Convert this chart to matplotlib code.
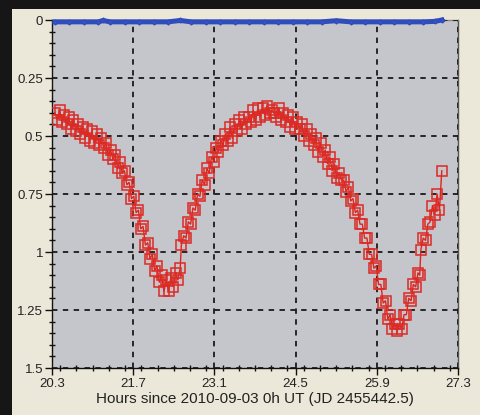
import matplotlib
matplotlib.use("Agg")
import matplotlib.pyplot as plt
from matplotlib.ticker import MultipleLocator, FixedLocator, FixedFormatter
from matplotlib.patches import Rectangle

plt.rcParams['font.family'] = ['Liberation Sans', 'DejaVu Sans']

# ---- data ----
red_x = [20.35, 20.39, 20.43, 20.47, 20.51, 20.55, 20.59, 20.63, 20.67, 20.71,
         20.75, 20.79, 20.83, 20.87, 20.91, 20.95, 20.99, 21.03, 21.07, 21.11,
         21.15, 21.19, 21.23, 21.27, 21.31, 21.35, 21.39, 21.43, 21.47, 21.51,
         21.55, 21.59, 21.63, 21.67, 21.71, 21.75, 21.79, 21.83, 21.87, 21.91,
         21.95, 21.99, 22.03, 22.07, 22.11, 22.15, 22.19, 22.23, 22.27, 22.31,
         22.35, 22.39, 22.43, 22.47, 22.51,
         22.53, 22.57, 22.61, 22.65, 22.69, 22.73, 22.77, 22.81, 22.85, 22.89,
         22.93, 22.97, 23.01, 23.05, 23.09, 23.13, 23.17, 23.21, 23.25, 23.29,
         23.33, 23.37, 23.41, 23.45, 23.49, 23.53, 23.57, 23.61, 23.65, 23.69,
         23.73, 23.77, 23.81, 23.85, 23.89, 23.93, 23.97, 24.01, 24.05, 24.09,
         24.13, 24.17, 24.21, 24.25, 24.29, 24.33, 24.37, 24.41, 24.45, 24.49,
         24.53, 24.57, 24.61, 24.65, 24.69, 24.73, 24.77, 24.81, 24.85, 24.89,
         24.93, 24.97, 25.01, 25.05, 25.09, 25.13, 25.17, 25.21, 25.25, 25.29,
         25.33, 25.37, 25.41, 25.45, 25.49, 25.53, 25.57, 25.61, 25.65, 25.69,
         25.73, 25.77, 25.81, 25.85, 25.89, 25.93, 25.97, 26.01, 26.05, 26.09,
         26.13, 26.17, 26.21, 26.25, 26.29, 26.33, 26.37, 26.41, 26.45, 26.49,
         26.53, 26.57, 26.61, 26.64,
         26.66, 26.70, 26.74, 26.78, 26.82, 26.86, 26.90, 26.94, 26.98, 27.02]
red_y = [0.40, 0.43, 0.39, 0.44, 0.41, 0.45, 0.42, 0.47, 0.43, 0.48,
         0.45, 0.49, 0.46, 0.51, 0.47, 0.52, 0.48, 0.53, 0.49, 0.54,
         0.51, 0.55, 0.53, 0.58, 0.56, 0.60, 0.58, 0.64, 0.61, 0.66,
         0.65, 0.71, 0.70, 0.77, 0.76, 0.83, 0.82, 0.90, 0.89, 0.97,
         0.96, 1.03, 1.01, 1.08, 1.06, 1.13, 1.10, 1.17, 1.12, 1.17,
         1.11, 1.15, 1.09, 1.12, 1.07,
         0.97, 0.93, 0.94, 0.87, 0.88, 0.81, 0.82, 0.75, 0.76, 0.69,
         0.71, 0.64, 0.66, 0.59, 0.61, 0.55, 0.57, 0.52, 0.54, 0.49,
         0.52, 0.46, 0.51, 0.45, 0.48, 0.43, 0.47, 0.42, 0.45, 0.42,
         0.44, 0.39, 0.43, 0.38, 0.42, 0.38, 0.41, 0.37, 0.40, 0.39,
         0.40, 0.42, 0.38, 0.43, 0.40, 0.44, 0.41, 0.46, 0.42, 0.47,
         0.44, 0.47, 0.45, 0.50, 0.47, 0.52, 0.49, 0.54, 0.51, 0.57,
         0.53, 0.59, 0.56, 0.62, 0.59, 0.65, 0.62, 0.68, 0.66, 0.69,
         0.69, 0.74, 0.72, 0.78, 0.77, 0.83, 0.82, 0.88, 0.88, 0.94,
         0.94, 1.01, 1.01, 1.07, 1.06, 1.14, 1.14, 1.22, 1.21, 1.29,
         1.27, 1.33, 1.31, 1.34, 1.31, 1.33, 1.27, 1.27, 1.20, 1.21,
         1.14, 1.15, 1.09, 1.10,
         0.99, 0.94, 0.95, 0.88, 0.87, 0.80, 0.84, 0.75, 0.82, 0.65]

blue_x = [20.35, 20.6, 20.85, 21.1, 21.18, 21.3, 21.55, 21.8, 22.05, 22.3,
          22.51, 22.7, 22.95, 23.2, 23.45, 23.7, 23.95, 24.2, 24.45, 24.7,
          24.95, 25.2, 25.45, 25.7, 25.95, 26.2, 26.45, 26.7, 26.9, 27.02]
blue_y = [0.008, 0.008, 0.008, 0.008, 0.002, 0.008, 0.008, 0.008, 0.008, 0.008,
          0.002, 0.008, 0.008, 0.008, 0.008, 0.008, 0.008, 0.008, 0.008, 0.008,
          0.008, 0.003, 0.008, 0.008, 0.008, 0.008, 0.008, 0.008, 0.006, 0.0]

x_ticks = [20.3, 21.7, 23.1, 24.5, 25.9, 27.3]
x_labels = ['20.3', '21.7', '23.1', '24.5', '25.9', '27.3']
y_ticks = [0, 0.25, 0.5, 0.75, 1.0, 1.25, 1.5]
y_labels = ['0', '0.25', '0.5', '0.75', '1', '1.25', '1.5']
x_label = 'Hours since 2010-09-03 0h UT (JD 2455442.5)'

# ---- figure ----
W, H = 480, 415
fig = plt.figure(figsize=(W / 100, H / 100), dpi=100)
fig.patch.set_facecolor('#161616')
panel = Rectangle((12 / W, 0), 1 - 12 / W, (H - 9) / H,
                  transform=fig.transFigure, facecolor='#ebe8d9',
                  edgecolor='none', zorder=-10)
fig.add_artist(panel)

ax = fig.add_axes([52 / W, 1 - 368 / H, (458 - 52) / W, (368 - 20) / H])
ax.set_zorder(5)
ax.set_facecolor('#c5c6cb')

ax.plot(red_x, red_y, color='#e0241c', lw=1.0, marker='s', markersize=7.0,
        markerfacecolor='none', markeredgecolor='#dc2a24', markeredgewidth=1.1,
        zorder=3)
ax.plot(blue_x, blue_y, color='#2f4cbc', lw=3.6, marker='D', markersize=2.5,
        markerfacecolor='#3a55c8', markeredgecolor='#2f4cbc', zorder=4,
        clip_on=False)

ax.set_xlim(20.3, 27.3)
ax.set_ylim(1.5, 0)

ax.xaxis.set_major_locator(FixedLocator(x_ticks))
ax.xaxis.set_major_formatter(FixedFormatter(x_labels))
ax.xaxis.set_minor_locator(MultipleLocator(0.28))
ax.yaxis.set_major_locator(FixedLocator(y_ticks))
ax.yaxis.set_major_formatter(FixedFormatter(y_labels))
ax.yaxis.set_minor_locator(MultipleLocator(0.05))

ax.grid(True, which='major', color='#1a1a1a', linestyle=(0, (3, 3)), lw=1.3)
ax.set_axisbelow(False)
for gl in ax.get_xgridlines() + ax.get_ygridlines():
    gl.set_zorder(1.5)

ax.tick_params(axis='both', which='major', direction='out', length=5,
               width=1.0, color='#111111', labelsize=9.5, labelcolor='#222222')
ax.tick_params(axis='both', which='minor', direction='inout', length=4,
               width=1.0, color='#111111')
ax.tick_params(axis='x', which='major', pad=2.5)
ax.tick_params(axis='y', which='major', pad=1.5)

ax.spines['left'].set_color('#111111')
ax.spines['bottom'].set_color('#111111')
ax.spines['right'].set_color('#555555')
ax.spines['top'].set_color('#8a8a8a')
for s in ax.spines.values():
    s.set_linewidth(1.0)

ax.set_xlabel(x_label, fontsize=11, color='#222222', labelpad=1)

fig.savefig('out.png', dpi=100, facecolor=fig.get_facecolor())
